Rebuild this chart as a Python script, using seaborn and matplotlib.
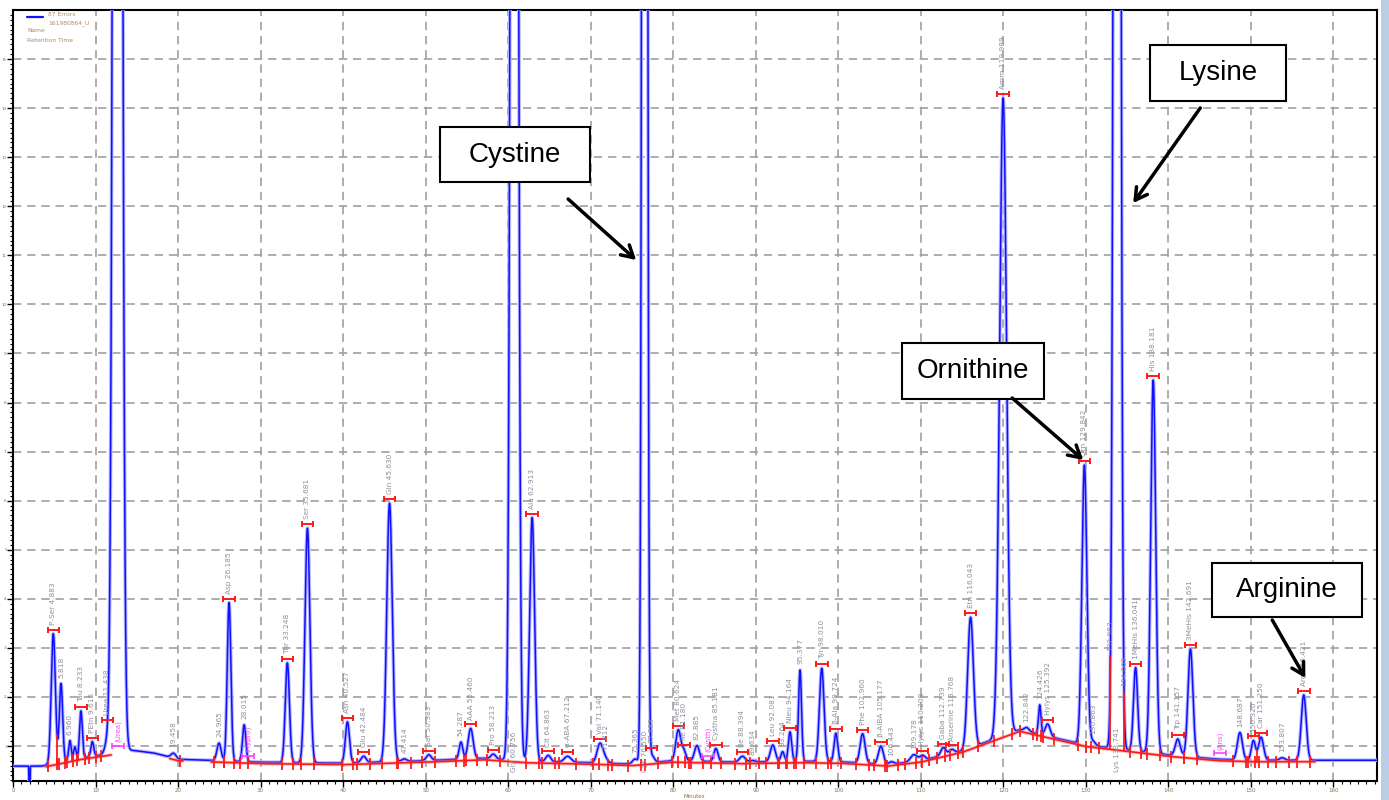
import numpy as np
import pandas as pd
import matplotlib
matplotlib.use("Agg")
import matplotlib.pyplot as plt
from matplotlib.patches import Rectangle
from matplotlib.lines import Line2D
from matplotlib.ticker import MultipleLocator, FuncFormatter
import seaborn as sns

# ---------------- data ----------------
# peak table: retention time (min), height above baseline, width (sigma, min)
peak_rt = [2.0, 4.883, 5.818, 6.9, 7.5, 8.233, 9.615, 11.438, 12.67, 19.458, 24.965,
           26.185, 28.015, 33.248, 35.681, 40.527, 42.484, 45.630, 47.414, 50.383,
           54.287, 55.460, 58.213, 60.756, 62.913, 64.863, 67.212, 71.140, 71.812,
           75.365, 76.55, 77.383, 80.624, 81.30, 82.885, 85.181, 88.394, 89.634,
           92.081, 93.264, 94.164, 95.377, 98.010, 99.724, 102.960, 105.177, 106.443,
           109.178, 110.208, 112.739, 113.768, 116.043, 119.989, 122.842, 124.426,
           125.392, 129.842, 130.863, 133.0, 133.8, 134.65, 136.041, 138.181, 141.157,
           142.691, 148.687, 150.320, 151.250, 153.807, 156.421]
peak_height = [-30, 26.5, 16, 4, 2.5, 9.6, 3.0, 2.5, 700, 1.0, 3.6,
               32.3, 7.5, 20.3, 47.8, 8.4, 1.3, 52.7, 0.5, 1.2,
               3.5, 6.2, 1.0, 600, 49.7, 1.3, 1.2, 4.0, 0.8,
               1.0, 800, 1.5, 6.3, 2.0, 3.2, 2.7, 1.2, 0.3,
               3.4, 2.0, 6.0, 18.6, 19.0, 5.8, 6.0, 3.7, 0.5,
               1.4, 1.0, 1.6, 0.8, 26.6, 130, 0.8, 6.0,
               2.5, 57, 1.0, 0.0, 650, 0.0, 17, 76, 3.4,
               22, 5.6, 4.0, 4.7, 0.5, 13.3]
peak_sigma = [0.035, 0.25, 0.2, 0.15, 0.15, 0.17, 0.17, 0.3, 0.38, 0.3, 0.25,
              0.22, 0.2, 0.25, 0.3, 0.25, 0.3, 0.33, 0.3, 0.3,
              0.22, 0.3, 0.3, 0.33, 0.3, 0.3, 0.4, 0.35, 0.3,
              0.3, 0.22, 0.3, 0.3, 0.25, 0.3, 0.25, 0.35, 0.3,
              0.3, 0.2, 0.2, 0.18, 0.28, 0.22, 0.3, 0.3, 0.3,
              0.4, 0.3, 0.3, 0.3, 0.35, 0.42, 0.3, 0.15,
              0.3, 0.3, 0.3, 0.3, 0.3, 0.3, 0.25, 0.3, 0.3,
              0.3, 0.3, 0.25, 0.3, 0.3, 0.3]
peak_label = ["", "P-Ser 4.883", "5.818", "6.960", "", "Tau 8.233", "PEtn 9.615", "Urea 11.438", "", "19.458", "24.965",
              "Asp 26.185", "28.015", "Thr 33.248", "Ser 35.681", "Asn 40.527", "Glu 42.484", "Gln 45.630", "47.414", "Sar 50.383",
              "54.287", "AAA 55.460", "Pro 58.213", "Gly 60.756", "Ala 62.913", "Cit 64.863", "α-ABA 67.212", "Val 71.140", "71.812",
              "75.365", "Cys 76.550", "77.383", "Met 80.624", "Ile 81.180", "82.885", "Cystha 85.181", "Ile 88.394", "89.634",
              "Leu 92.081", "93.264", "Nleu 94.164", "95.377", "Tyr 98.010", "β-Ala 99.724", "Phe 102.960", "β-AiBA 105.177", "106.443",
              "109.178", "Hylys 110.208", "Gaba 112.739", "Anserine 113.768", "Etn 116.043", "Amm 119.989", "122.842", "124.426",
              "Hylys 125.392", "Orn 129.842", "130.863", "132.983", "Lys 133.741", "134.669", "1MeHis 136.041", "His 138.181", "Trp 141.157",
              "3MeHis 142.691", "148.687", "150.320", "Car 151.250", "153.807", "Arg 156.421"]
peak_marked = [0, 1, 0, 0, 0, 1, 1, 1, 0, 0, 0,
               1, 0, 1, 1, 1, 1, 1, 0, 1,
               0, 1, 1, 0, 1, 1, 1, 1, 0,
               0, 0, 1, 1, 1, 0, 1, 1, 0,
               1, 0, 1, 0, 1, 1, 1, 1, 0,
               0, 1, 1, 1, 1, 1, 0, 0,
               1, 1, 0, 0, 0, 0, 1, 1, 1,
               1, 0, 1, 1, 0, 1]
label_bottom = ["Gly 60.756", "Cys 76.550", "Lys 133.741"]

# detector baseline drift read at a few retention times
base_t = [0, 3.5, 8, 12, 14, 17, 20, 30, 40, 50, 57, 62, 70, 75, 80, 88, 95, 100, 106, 110, 115, 122, 130, 140, 146, 150, 165.3]
base_v = [5.9, 5.9, 7.5, 8.5, 9.2, 8.6, 7.3, 6.7, 6.5, 7.0, 7.5, 6.9, 6.6, 6.3, 7.0, 6.7, 6.9, 6.8, 6.2, 7.0, 9.0, 13.3, 10.2, 8.2, 7.3, 7.1, 7.1]

# integration baseline windows and drop lines
red_windows = [(4.0, 11.9), (19.0, 20.6), (24.0, 157.8)]
drop_t = [5.35, 6.35, 7.15, 7.85, 93.7, 94.6, 133.0, 134.65, 150.8]

# not-found (expected) components, in magenta
missing_names = ["(Urea)", "(Hypro)", "(Cysth)", "(Ans)"]
missing_t = [12.7, 28.5, 84.2, 146.3]

annot_names = ["Cystine", "Lysine", "Ornithine", "Arginine"]

# ---------------- helpers for layout (pixel -> data) ----------------
def px_t(px):
    return (px - 13) / 8.25

def px_v(py):
    return (746 - py) / 4.907 + 10

t = np.round(np.arange(0, 165.31, 0.01), 3)
base = np.interp(t, base_t, base_v)
sig = base.copy()
for rt, h, s in zip(peak_rt, peak_height, peak_sigma):
    sig += h * np.exp(-0.5 * ((t - rt) / s) ** 2)
df = pd.DataFrame({"t": t, "signal": sig})

def trace_at(x):
    return float(np.interp(x, t, sig))

def base_at(x):
    return float(np.interp(x, base_t, base_v)) - 0.3

# ---------------- figure ----------------
sns.set_theme(style="white")
plt.rcParams["font.family"] = ["DejaVu Sans"]
fig = plt.figure(figsize=(13.89, 8.0), dpi=100)
fig.patch.set_facecolor("white")
ax = fig.add_axes([13 / 1389, 19 / 800, 1364 / 1389, 771 / 800])

# right-hand window strip
fig.add_artist(Rectangle((1381 / 1389, 0), 8 / 1389, 1, transform=fig.transFigure,
                         facecolor="#b9cde5", edgecolor="none"))

sns.lineplot(data=df, x="t", y="signal", ax=ax, color="#b4b4ff", lw=2.6,
             estimator=None, sort=False, zorder=3)
sns.lineplot(data=df, x="t", y="signal", ax=ax, color="#1010ff", lw=1.1,
             estimator=None, sort=False, zorder=4)

ax.set_xlim(0, 165.3)
ax.set_ylim(px_v(781), px_v(10))
ax.xaxis.set_major_locator(MultipleLocator(10))
ax.xaxis.set_minor_locator(MultipleLocator(1))
ax.yaxis.set_major_locator(MultipleLocator(10))
ax.yaxis.set_minor_locator(MultipleLocator(1))
ax.yaxis.set_major_formatter(FuncFormatter(lambda v, p: "%d" % round(v / 10)))
ax.grid(True, which="major", color="#a0a0a0", lw=1.2, ls=(0, (5, 3.5)))
ax.set_axisbelow(True)
ax.tick_params(which="major", direction="out", length=4, width=1, color="black",
               bottom=True, left=True, labelsize=4, pad=1, labelcolor="#8b6f50")
ax.tick_params(which="minor", direction="out", length=2.5, width=0.8, color="black",
               bottom=True, left=True)
ax.tick_params(axis="y", labelsize=3, pad=0.5)
for sp in ax.spines.values():
    sp.set_color("black")
    sp.set_linewidth(1.5)
ax.set_xlabel("")
ax.set_ylabel("")
fig.text(0.5, 0.004, "Minutes", fontsize=4, color="#8b6f50", ha="center", va="center")

# integration baseline (red)
for a, b in red_windows:
    tt = t[(t >= a) & (t <= b)]
    rb = np.interp(tt, base_t, base_v) - 0.3
    ax.plot(tt, rb, color="#ff8080", lw=2.6, alpha=0.5, zorder=5)
    ax.plot(tt, rb, color="#ff1a1a", lw=1.2, zorder=5)

def in_red(x):
    return any(a <= x <= b for a, b in red_windows)

tick_x = []
for rt, h, s, lab in zip(peak_rt, peak_height, peak_sigma, peak_label):
    if lab and h > 0 and lab not in label_bottom:
        for x in (rt - 2.6 * s, rt + 2.6 * s):
            if in_red(x):
                tick_x.append(x)
ax.plot(tick_x, [base_at(x) for x in tick_x], ls="none", marker="|", ms=9,
        mew=1.3, color="#ff1a1a", zorder=6)

for x in drop_t:
    ax.plot([x, x], [base_at(x), trace_at(x)], color="#ff1a1a", lw=1.3, zorder=5)

# apex markers and peak labels
for rt, h, lab, mk in zip(peak_rt, peak_height, peak_label, peak_marked):
    if not lab:
        continue
    if lab in label_bottom:
        ax.text(rt, px_v(772), lab, rotation=90, fontsize=5.3, color="#8f8f9c",
                ha="center", va="bottom", zorder=7)
        continue
    top = trace_at(rt)
    if mk:
        ax.errorbar(rt, top + 0.8, xerr=0.7, fmt="none", ecolor="#ff1a1a",
                    elinewidth=1.4, capsize=2.5, capthick=1.4, zorder=7)
        y0 = top + 1.8
    else:
        y0 = top + 1.2
    ax.text(rt, y0, lab, rotation=90, fontsize=5.3, color="#8f8f9c",
            ha="center", va="bottom", zorder=7)

for name, x in zip(missing_names, missing_t):
    yb = base_at(x) + 1.5
    ax.errorbar(x, yb, xerr=0.7, fmt="none", ecolor="#ff40ff", elinewidth=1.2,
                capsize=2.2, capthick=1.2, zorder=7)
    ax.text(x, yb + 0.8, name, rotation=90, fontsize=5.0, color="#ff40ff",
            ha="center", va="bottom", zorder=7)

# legend block (top-left)
fig.add_artist(Line2D([27 / 1389, 43 / 1389], [1 - 17 / 800] * 2, color="#1010ff", lw=1.6))
legend_lines = [("87 Errors", 48, 14), ("161980864_U", 48, 23), ("Name", 27, 31), ("Retention Time", 27, 40)]
for s, x, y in legend_lines:
    fig.text(x / 1389, 1 - y / 800, s, fontsize=4.3, color="#b08a60", ha="left", va="center")

# callout boxes with arrows
boxes = [(440, 127, 590, 182), (1150, 45, 1286, 101), (902, 343, 1044, 399), (1212, 563, 1362, 617)]
arrows = [((568, 199), (636, 260)), ((1200, 108), (1133, 203)),
          ((1012, 398), (1083, 460)), ((1272, 620), (1305, 678))]
for name, (x0, y0, x1, y1), (p0, p1) in zip(annot_names, boxes, arrows):
    ax.add_patch(Rectangle((px_t(x0), px_v(y1)), px_t(x1) - px_t(x0), px_v(y0) - px_v(y1),
                           facecolor="white", edgecolor="black", lw=1.5, zorder=10))
    ax.text((px_t(x0) + px_t(x1)) / 2, (px_v(y0) + px_v(y1)) / 2, name,
            fontsize=20, family="Liberation Sans", color="black",
            ha="center", va="center", zorder=11)
    ax.annotate("", xy=(px_t(p1[0]), px_v(p1[1])), xytext=(px_t(p0[0]), px_v(p0[1])),
                arrowprops=dict(arrowstyle="->,head_length=0.7,head_width=0.4",
                                lw=2.5, color="black", shrinkA=0, shrinkB=0),
                zorder=10)

fig.savefig("out.png", dpi=100)
